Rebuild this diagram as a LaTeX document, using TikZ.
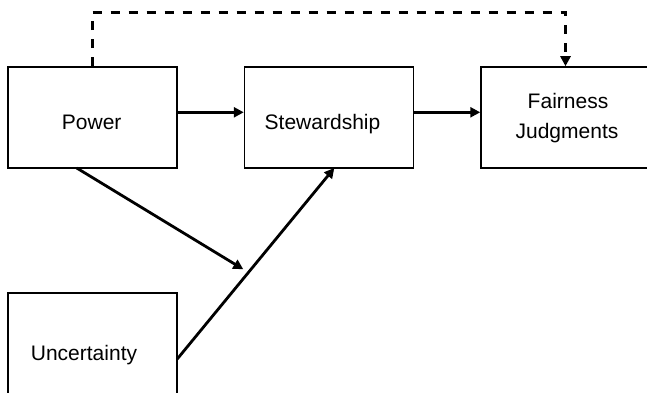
\documentclass[tikz,border=0pt]{standalone}
\usepackage{fontspec}
\setmainfont{Liberation Sans}
\usetikzlibrary{arrows.meta}
\begin{document}
\begin{tikzpicture}[x=1pt,y=-1pt,
  box/.style={draw,line width=1.5pt,minimum width=169pt,minimum height=101pt,inner sep=0pt},
  txt/.style={font=\fontsize{21}{25}\selectfont,inner sep=0pt,anchor=base},
  arr/.style={line width=2.8pt,-{Triangle[length=10pt,width=10pt]}},
  dsh/.style={line width=3pt,dash pattern=on 9pt off 9pt,-{Triangle[length=10pt,width=10pt]}}]
\useasboundingbox (0,0) rectangle (647,393);
\clip (0,0) rectangle (647,393);
\node[box] (pw) at (92.5,117.5) {};
\node[box] (st) at (329,117.5) {};
\node[box] (fj) at (565.5,117.5) {};
\node[box] (un) at (92.5,343.5) {};
\node[txt] (tpw) at (91.7,129.3) {Power};
\node[txt] (tst) at (322.5,129.3) {Stewardship};
\node[txt] (tfa) at (568,109) {Fairness};
\node[txt] (tju) at (567,138.5) {Judgments};
\node[txt] (tun) at (84,360) {Uncertainty};
\coordinate (m) at (243.3,269.3);
\coordinate (pwd) at (76.7,168);
\coordinate (und) at (177,359.3);
\coordinate (std) at (334.3,168);
\draw[arr] ([yshift=5.2pt]pw.east) -- ([yshift=5.2pt]st.west);
\draw[arr] ([yshift=5.2pt]st.east) -- ([yshift=5.2pt]fj.west);
\draw[dsh] (pw.north) -- (pw.north |- 0,12.3) -- (fj.north |- 0,12.3) -- (fj.north);
\draw[arr] (pwd) -- (m);
\draw[arr] (und) -- (std);
\end{tikzpicture}
\end{document}
